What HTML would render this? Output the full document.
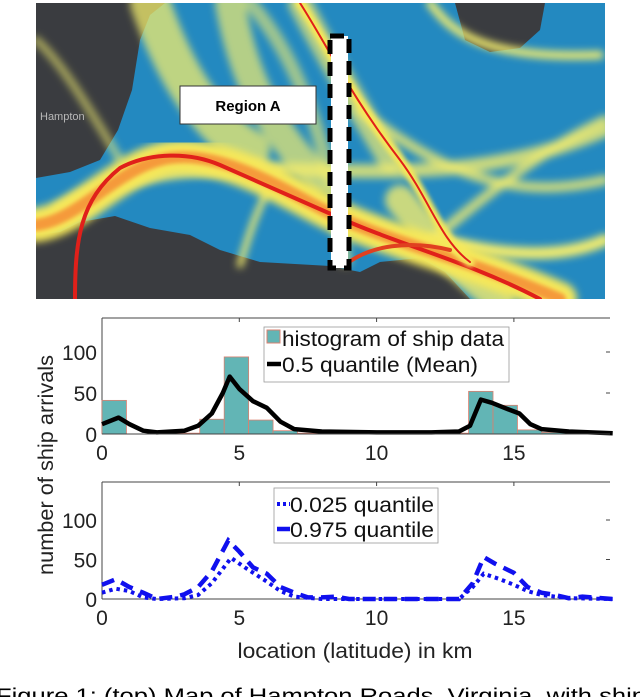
<!DOCTYPE html>
<html><head><meta charset="utf-8"><style>
html,body{margin:0;padding:0;background:#fff;width:640px;height:697px;overflow:hidden}
svg{display:block}
text{font-family:"Liberation Sans",Arial,sans-serif}
</style></head><body>
<svg id="fig" width="640" height="697" viewBox="0 0 640 697">
<defs><clipPath id="mapclip"><rect x="36" y="3" width="569" height="296"/></clipPath>
<filter id="blur2"><feGaussianBlur stdDeviation="2"/></filter>
<filter id="blur4"><feGaussianBlur stdDeviation="4"/></filter></defs>
<g clip-path="url(#mapclip)">
<rect x="36" y="3" width="569" height="296" fill="#2389c0"/>
<g fill="#3a3c40">
<path d="M36 3 L165 3 L150 15 L140 40 L132 90 L118 130 L100 160 L70 172 L36 178 Z"/>
<path d="M36 235 L60 232 L80 222 L115 216 L150 228 L190 235 L220 250 L260 262 L330 266 L360 272 L380 262 L420 258 L445 272 L470 299 L36 299 Z"/>
<path d="M455 3 L545 3 L540 30 L520 48 L490 52 L465 40 Z"/>
</g>
<g fill="none" stroke="#f2ec6e" stroke-linecap="round" filter="url(#blur4)">
<path d="M150 3 C170 60 200 120 250 150" stroke-width="40" opacity="0.75"/>
<path d="M230 3 C240 60 260 120 320 180" stroke-width="30" opacity="0.7"/>
<path d="M300 3 C330 60 360 110 390 160" stroke-width="24" opacity="0.7"/>
<path d="M60 210 C200 120 400 220 605 130" stroke-width="14" opacity="0.8"/>
<path d="M430 3 C450 30 480 60 600 55" stroke-width="8"/>
<path d="M360 110 C450 180 520 200 605 180" stroke-width="10" opacity="0.8"/>
<path d="M440 240 C500 255 560 260 605 240" stroke-width="12"/>
<path d="M420 250 C480 200 540 150 605 120" stroke-width="10" opacity="0.8"/>
<path d="M240 265 C250 230 260 200 280 170" stroke-width="6"/>
<path d="M250 3 C300 60 330 150 345 260" stroke-width="14" opacity="0.6"/>
<path d="M400 200 C440 250 470 280 500 299" stroke-width="30" opacity="0.8"/>
<path d="M36 40 C60 60 90 110 120 160" stroke-width="8" opacity="0.6"/>
</g>
<g fill="none" stroke-linecap="round">
<path d="M36 225 C80 220 120 165 170 158 C230 150 300 200 340 218 C400 245 470 260 560 299" stroke="#f6e85a" stroke-width="34" filter="url(#blur4)"/>
<path d="M36 225 C80 220 120 165 170 158 C230 150 300 200 340 218 C400 245 470 260 560 299" stroke="#f59a3a" stroke-width="12" filter="url(#blur2)"/>
<path d="M75 299 C75 240 80 200 120 168 C150 152 190 152 220 165 L340 218 C400 245 470 262 540 299" stroke="#e0201a" stroke-width="4"/>
<path d="M300 3 C330 50 350 95 400 160 C430 200 440 240 470 262" stroke="#f6e85a" stroke-width="10" filter="url(#blur2)"/>
<path d="M300 3 C330 50 350 95 400 160 C430 200 440 240 470 262" stroke="#e0201a" stroke-width="2"/>
<path d="M345 265 C370 245 410 240 450 250" stroke="#e04020" stroke-width="4"/>
</g>
<text x="40" y="120" font-size="11" fill="#b8b8b8">Hampton</text>
<rect x="180" y="86" width="136" height="38" fill="#fff" stroke="#333" stroke-width="1"/>
<text x="248" y="111" font-size="15" font-weight="bold" text-anchor="middle" fill="#000" font-family="Liberation Sans">Region A</text>
<g>
<rect x="331" y="36" width="17" height="232" fill="#fff"/>
<rect x="330" y="36" width="19" height="232" fill="none" stroke="#000" stroke-width="5" stroke-dasharray="14 8"/>
</g>
</g>
<g id="top-chart"></g>
<g id="bot-chart"></g>
<text transform="translate(53,465) rotate(-90)" font-size="21" text-anchor="middle" textLength="220" lengthAdjust="spacingAndGlyphs" fill="#222">number of ship arrivals</text>
<text x="355" y="658" font-size="21" text-anchor="middle" textLength="235" lengthAdjust="spacingAndGlyphs" fill="#222">location (latitude) in km</text>
<text x="-4" y="703" font-size="21" textLength="650" lengthAdjust="spacingAndGlyphs" font-family="Liberation Serif" fill="#000">Figure 1: (top) Map of Hampton Roads, Virginia, with ship</text>
</svg>
<script>
const xTicks = [0, 5, 10, 15];
const yTicks = [0, 50, 100];
const binWidth = 0.89;
const histCounts = [41,0,0,1,18,94,17,4,1,0,0,0,0,0,1,52,35,5,2,0,0];
const meanX = [0,0.6,1,1.5,2,3,3.5,4,4.4,4.65,5,5.5,6,6.5,7,8,10,12,13,13.4,13.8,14.2,14.8,15.2,15.6,16,17,18.6];
const meanY = [12,20,12,4,2,4,10,25,50,70,55,40,32,15,6,3,2,2,3,10,42,38,30,25,12,6,3,1];
const q025X = [0,0.5,1,1.5,2,3,3.5,4,4.7,5.2,6,6.5,7,8,13,13.5,13.9,14.5,15,15.5,16,17,18.6];
const q025Y = [8,13,10,2,0,1,5,20,52,40,22,10,3,0,0,15,32,25,18,10,5,1,0];
const q975X = [0,0.5,1,1.5,2,2.7,3,3.5,4,4.6,5,5.5,6,6.5,7,7.5,8,8.5,9,13,13.5,13.9,14.3,15,15.5,16,16.5,17,17.5,18.6];
const q975Y = [18,25,15,8,0,3,6,15,35,74,60,40,32,15,8,2,2,3,0,0,20,53,45,33,15,8,5,1,3,0];

const NS = 'http://www.w3.org/2000/svg';
function mk(tag, attrs, parent){const e=document.createElementNS(NS,tag);for(const k in attrs)e.setAttribute(k,attrs[k]);parent.appendChild(e);return e;}
function axes(g, top, zero, yPerUnit){
  const L=102, R=610, xmax=18.5;
  const sx=v=>L+v*(R-L)/xmax, sy=v=>zero-v*yPerUnit;
  const t=mk('line',{x1:L,y1:top,x2:R,y2:top,stroke:'#444','stroke-width':1},g);
  
  
  const lft=mk('line',{x1:L,y1:top,x2:L,y2:zero,stroke:'#444','stroke-width':1},g);
  
  
  xTicks.forEach(v=>{
    const tk=mk('line',{x1:sx(v),y1:top,x2:sx(v),y2:top+4,stroke:'#444'},g);
    
    
    const tx=mk('text',{x:sx(v),y:zero+26,'font-size':21,'text-anchor':'middle',fill:'#222'},g);
    tx.textContent=v;
    
    
  });
  yTicks.forEach(v=>{
    const tk=mk('line',{x1:R-4,y1:sy(v),x2:R,y2:sy(v),stroke:'#444'},g);
    
    
    const tx=mk('text',{x:L-5,y:sy(v)+8,'font-size':21,'text-anchor':'end',fill:'#222'},g);
    tx.textContent=v;
    
    
  });
  return {sx,sy,L,R,zero};
}
function pathOf(xs,ys,a){return xs.map((x,i)=>(i?'L':'M')+a.sx(x).toFixed(1)+' '+a.sy(ys[i]).toFixed(1)).join(' ');}

// top chart
const g1=document.getElementById('top-chart');
const a1=axes(g1,318,434,0.82);
histCounts.forEach((c,i)=>{
  if(c<=0)return;
  const x0=a1.sx(i*binWidth), x1=a1.sx((i+1)*binWidth);
  const r=mk('rect',{x:x0,y:a1.sy(c),width:x1-x0,height:a1.zero-a1.sy(c),fill:'#62b5b5',stroke:'#d98070','stroke-width':0.8},g1);
  
  
});
const ml=mk('path',{d:pathOf(meanX,meanY,a1),fill:'none',stroke:'#000','stroke-width':4.5,'stroke-linejoin':'round'},g1);


const base1=mk('line',{x1:a1.L,y1:a1.zero,x2:a1.R,y2:a1.zero,stroke:'#444'},g1);


const lg1=mk('g',{},g1);


mk('rect',{x:264,y:327,width:245,height:55,fill:'#fff',stroke:'#999','stroke-width':0.8},lg1);
const sw=mk('rect',{x:267,y:330,width:13,height:13,fill:'#62b5b5',stroke:'#d98070'},lg1);


const lt1=mk('text',{x:282,y:346,'font-size':21,fill:'#111',textLength:222,lengthAdjust:'spacingAndGlyphs'},lg1);lt1.textContent='histogram of ship data';
const ls=mk('line',{x1:267,y1:364,x2:281,y2:364,stroke:'#000','stroke-width':4.5},lg1);


const lt2=mk('text',{x:282,y:372,'font-size':21,fill:'#111',textLength:196,lengthAdjust:'spacingAndGlyphs'},lg1);lt2.textContent='0.5 quantile (Mean)';

// bottom chart
const g2=document.getElementById('bot-chart');
const a2=axes(g2,482,599,0.79);
const base2=mk('line',{x1:a2.L,y1:a2.zero,x2:a2.R,y2:a2.zero,stroke:'#444'},g2);


const d1=mk('path',{d:pathOf(q025X,q025Y,a2),fill:'none',stroke:'#1010ee','stroke-width':4,'stroke-dasharray':'3.5 4'},g2);


const d2=mk('path',{d:pathOf(q975X,q975Y,a2),fill:'none',stroke:'#1010ee','stroke-width':4.5,'stroke-dasharray':'13 8'},g2);


const lg2=mk('g',{},g2);


mk('rect',{x:274,y:488,width:164,height:55,fill:'#fff',stroke:'#999','stroke-width':0.8},lg2);
const e1=mk('line',{x1:277,y1:504,x2:290,y2:504,stroke:'#1010ee','stroke-width':4,'stroke-dasharray':'3 3'},lg2);


const t3=mk('text',{x:290,y:512,'font-size':21,fill:'#111',textLength:144,lengthAdjust:'spacingAndGlyphs'},lg2);t3.textContent='0.025 quantile';
const e2=mk('line',{x1:277,y1:529,x2:290,y2:529,stroke:'#1010ee','stroke-width':4.5},lg2);


const t4=mk('text',{x:290,y:537,'font-size':21,fill:'#111',textLength:144,lengthAdjust:'spacingAndGlyphs'},lg2);t4.textContent='0.975 quantile';
</script>
</body></html>
